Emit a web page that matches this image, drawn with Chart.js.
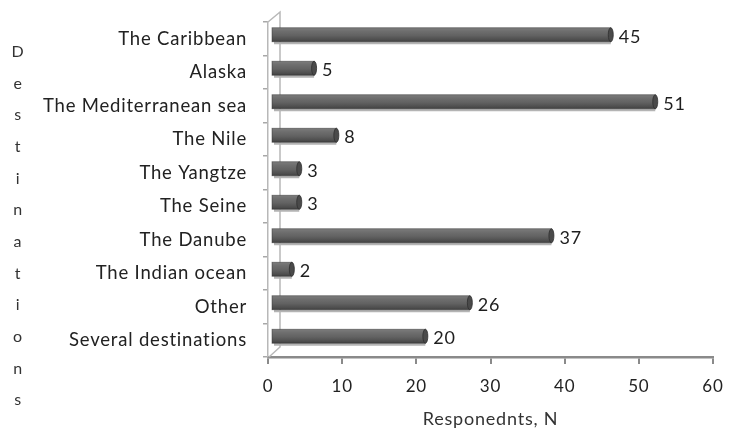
<!DOCTYPE html>
<html>
<head>
<meta charset="utf-8">
<script src="https://cdn.jsdelivr.net/npm/chart.js@4"></script>
<style>
  html, body { margin: 0; padding: 0; background: #ffffff; }
  #wrap { width: 729px; height: 430px; }
</style>
</head>
<body>
<div id="wrap"><canvas id="c" width="729" height="430"></canvas></div>
<script>
// Destinations and number of respondents
const destinations = [
  'The Caribbean',
  'Alaska',
  'The Mediterranean sea',
  'The Nile',
  'The Yangtze',
  'The Seine',
  'The Danube',
  'The Indian ocean',
  'Other',
  'Several destinations'
];
const respondents = [45, 5, 51, 8, 3, 3, 37, 2, 26, 20];
const xTicks = [0, 10, 20, 30, 40, 50, 60];
const yTitle = 'Destinations';
const xTitle = 'Responednts, N';

const FONT = 'Lato, "Open Sans", sans-serif';
const DEPTH_X = 9;   // 3D depth offset of the bars
const DEPTH_Y = -4;

// Slightly wider letter spacing for all chart text
const spacing = {
  id: 'spacing',
  beforeDraw(chart) { chart.ctx.letterSpacing = '0.8px'; }
};

// Cylinder-like bars with a depth offset, plus value labels
const bars3d = {
  id: 'bars3d',
  afterDatasetsDraw(chart) {
    const ctx = chart.ctx;
    const meta = chart.getDatasetMeta(0);
    const vals = chart.data.datasets[0].data;
    ctx.save();
    meta.data.forEach((el, i) => {
      const p = el.getProps(['x', 'y', 'base', 'height'], true);
      const x0 = p.base + 3;
      const x1 = p.x + DEPTH_X;
      const yt = p.y - p.height / 2 + DEPTH_Y;
      const yb = yt + p.height;
      // lower depth face
      ctx.fillStyle = '#b4b4b4';
      ctx.fillRect(x0 + 2, yb, x1 - x0 - 2, 2.5);
      // body
      const g = ctx.createLinearGradient(0, yt, 0, yb);
      g.addColorStop(0, '#7c7c7c');
      g.addColorStop(0.25, '#6e6e6e');
      g.addColorStop(0.55, '#626262');
      g.addColorStop(0.85, '#4e4e4e');
      g.addColorStop(1, '#404040');
      ctx.fillStyle = g;
      ctx.fillRect(x0, yt, x1 - x0, p.height);
      ctx.strokeStyle = 'rgba(50,50,50,0.6)';
      ctx.lineWidth = 0.8;
      ctx.strokeRect(x0, yt, x1 - x0, p.height);
      // rounded end cap
      ctx.beginPath();
      ctx.ellipse(x1, yt + p.height / 2, 2.5, p.height / 2, 0, 0, Math.PI * 2);
      ctx.fillStyle = '#4a4a4a';
      ctx.fill();
      ctx.strokeStyle = '#2e2e2e';
      ctx.lineWidth = 0.8;
      ctx.stroke();
      // value label
      ctx.fillStyle = '#1e1e1e';
      ctx.font = '18px ' + FONT;
      ctx.textAlign = 'left';
      ctx.textBaseline = 'middle';
      ctx.fillText(String(vals[i]), x1 + 8, yt + p.height / 2 + 2);
    });
    ctx.restore();
  }
};

// Back wall of the 3D frame and the stacked vertical axis title
const frame = {
  id: 'frame',
  beforeDatasetsDraw(chart) {
    const ctx = chart.ctx;
    const a = chart.chartArea;
    ctx.save();
    ctx.strokeStyle = '#b8b8b8';
    ctx.lineWidth = 1.5;
    ctx.beginPath();
    ctx.moveTo(a.left, a.top);
    ctx.lineTo(a.left + 12, a.top - 10);
    ctx.lineTo(a.left + 12, a.bottom - 10);
    ctx.lineTo(a.left + 1, a.bottom);
    ctx.stroke();
    ctx.restore();
  },
  afterDraw(chart) {
    const ctx = chart.ctx;
    ctx.save();
    ctx.fillStyle = '#333333';
    ctx.font = '16px ' + FONT;
    ctx.textAlign = 'center';
    ctx.textBaseline = 'middle';
    const chars = yTitle.split('');
    const top = 52, bottom = 400;
    const step = (bottom - top) / (chars.length - 1);
    chars.forEach((ch, i) => ctx.fillText(ch, 18, top + i * step));
    ctx.restore();
  }
};

new Chart(document.getElementById('c'), {
  type: 'bar',
  data: {
    labels: destinations,
    datasets: [{
      data: respondents,
      backgroundColor: 'rgba(0,0,0,0)',
      borderWidth: 0,
      barThickness: 14
    }]
  },
  options: {
    indexAxis: 'y',
    responsive: false,
    animation: false,
    layout: { padding: { top: 22, right: 16, left: 0, bottom: 0 } },
    plugins: {
      legend: { display: false },
      tooltip: { enabled: false }
    },
    scales: {
      x: {
        min: xTicks[0],
        max: xTicks[xTicks.length - 1],
        afterBuildTicks: (s) => { s.ticks = xTicks.map(v => ({ value: v })); },
        afterFit: (s) => { s.height = 73; s.paddingLeft = 0; s.paddingRight = 0; },
        border: { display: true, color: '#8a8a8a', width: 2.5 },
        grid: { drawOnChartArea: false, drawTicks: true, tickLength: 7, color: '#8a8a8a', lineWidth: 2 },
        ticks: { color: '#222222', font: { family: FONT, size: 17 }, padding: 12 },
        title: { display: true, text: xTitle, color: '#333333', font: { family: FONT, size: 18 }, padding: { top: 4, bottom: 0 } }
      },
      y: {
        afterFit: (s) => { s.width = 268; s.paddingTop = 0; s.paddingBottom = 0; },
        border: { display: true, color: '#b8b8b8', width: 1.5 },
        grid: { offset: true, drawOnChartArea: false, drawTicks: true, tickLength: 5, color: '#a8a8a8', lineWidth: 1.5 },
        ticks: { color: '#222222', font: { family: FONT, size: 18.5 }, padding: 16 }
      }
    }
  },
  plugins: [spacing, frame, bars3d]
});
</script>
</body>
</html>
